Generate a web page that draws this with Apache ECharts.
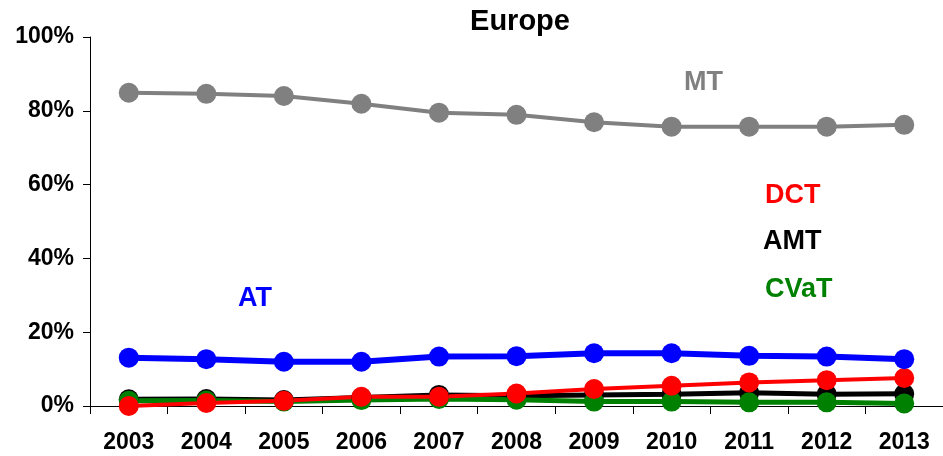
<!DOCTYPE html>
<html>
<head>
<meta charset="utf-8">
<title>Europe</title>
<script src="https://cdn.jsdelivr.net/npm/echarts@6/dist/echarts.min.js"></script>
<style>
  html, body { margin: 0; padding: 0; background: #fff; }
  #chart { width: 943px; height: 456px; }
</style>
</head>
<body>
<div id="chart"></div>
<script>
// Years on the category axis
const years = ['2003', '2004', '2005', '2006', '2007', '2008', '2009', '2010', '2011', '2012', '2013'];

// Shares per year, in percent
const mt   = [84.9, 84.6, 84.0, 81.9, 79.5, 78.9, 76.9, 75.7, 75.7, 75.7, 76.2];
const at   = [13.1, 12.7, 12.0, 12.0, 13.4, 13.5, 14.3, 14.3, 13.6, 13.4, 12.7];
const dct  = [0.0, 0.8, 1.4, 2.5, 2.5, 3.4, 4.6, 5.5, 6.4, 7.0, 7.6];
const amt  = [1.8, 1.9, 1.6, 2.3, 3.0, 2.8, 3.0, 3.2, 3.6, 3.2, 3.3];
const cvat = [1.4, 1.5, 1.2, 1.6, 1.9, 1.7, 1.2, 1.2, 1.0, 1.0, 0.7];

// Y axis ticks
const yTicks = { min: 0, max: 100, interval: 20 };

const FONT = '"Liberation Sans", Arial, sans-serif';

function lineSeries(name, data, color, width) {
  return {
    name: name,
    type: 'line',
    data: data,
    symbol: 'circle',
    symbolSize: 20,
    lineStyle: { color: color, width: width },
    itemStyle: { color: color },
    emphasis: { disabled: true }
  };
}

const chart = echarts.init(document.getElementById('chart'));
chart.setOption({
  animation: false,
  backgroundColor: '#ffffff',
  textStyle: { fontFamily: FONT },
  grid: { left: 90, right: -7, top: 37, bottom: 50, containLabel: false },
  xAxis: {
    type: 'category',
    data: years,
    boundaryGap: true,
    axisLine: { show: true, lineStyle: { color: '#000', width: 1 } },
    axisTick: { show: true, inside: false, length: 8, alignWithLabel: false, lineStyle: { color: '#000' } },
    axisLabel: { color: '#000', fontSize: 23, fontWeight: 'bold', fontFamily: FONT, margin: 25 },
    splitLine: { show: false }
  },
  yAxis: {
    type: 'value',
    min: yTicks.min,
    max: yTicks.max,
    interval: yTicks.interval,
    axisLine: { show: true, lineStyle: { color: '#000', width: 1 } },
    axisTick: { show: true, inside: false, length: 7, lineStyle: { color: '#000' } },
    axisLabel: { color: '#000', fontSize: 23, fontWeight: 'bold', fontFamily: FONT, margin: 16, formatter: '{value}%' },
    splitLine: { show: false }
  },
  series: [
    lineSeries('AMT', amt, '#000000', 5),
    lineSeries('CVaT', cvat, '#008000', 5),
    lineSeries('DCT', dct, '#ff0000', 4),
    lineSeries('AT', at, '#0000ff', 6),
    lineSeries('MT', mt, '#808080', 4)
  ],
  graphic: [
    { type: 'text', x: 520, y: 22, style: { text: 'Europe', font: 'bold 29px ' + FONT, fill: '#000', textAlign: 'center', textVerticalAlign: 'middle' } },
    { type: 'text', x: 684, y: 83, style: { text: 'MT', font: 'bold 27px ' + FONT, fill: '#808080', textVerticalAlign: 'middle' } },
    { type: 'text', x: 765, y: 196, style: { text: 'DCT', font: 'bold 27px ' + FONT, fill: '#ff0000', textVerticalAlign: 'middle' } },
    { type: 'text', x: 763, y: 242, style: { text: 'AMT', font: 'bold 27px ' + FONT, fill: '#000000', textVerticalAlign: 'middle' } },
    { type: 'text', x: 765, y: 290, style: { text: 'CVaT', font: 'bold 27px ' + FONT, fill: '#008000', textVerticalAlign: 'middle' } },
    { type: 'text', x: 238, y: 299, style: { text: 'AT', font: 'bold 27px ' + FONT, fill: '#0000ff', textVerticalAlign: 'middle' } }
  ]
});
</script>
</body>
</html>
